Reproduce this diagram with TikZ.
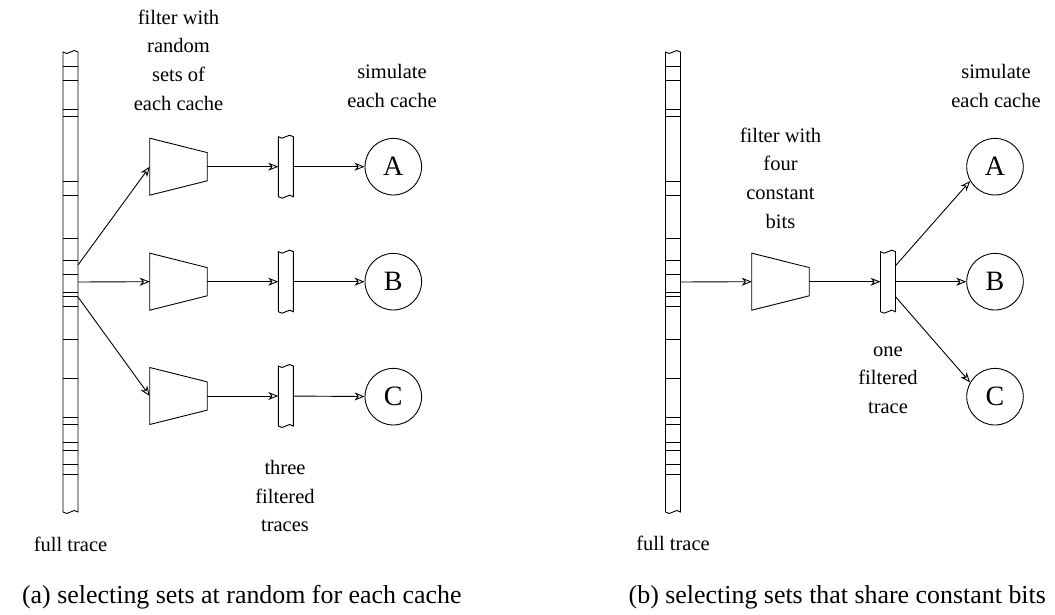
\documentclass[tikz,border=0pt]{standalone}
\usepackage{fontspec}
\setmainfont{Liberation Serif}
\usetikzlibrary{arrows.meta,positioning}

% outline of a trace strip: straight sides, wavy cut ends
\newcommand{\stripedge}[1]{%
  \draw (#1.north west) -- (#1.south west)
    sin ++(3.75,1.5) cos ++(3.75,-1.5) sin ++(3.75,-1.5) cos ++(3.75,1.5)
    -- (#1.north east)
    sin ++(-3.75,-1.5) cos ++(-3.75,1.5) sin ++(-3.75,1.5) cos ++(-3.75,-1.5)
    -- cycle;}
% filter drawn as a funnel inside its node box
\newcommand{\funnel}[1]{%
  \draw (#1.north west) -- ([yshift=-7.2pt]#1.north east)
    -- ([yshift=7.2pt]#1.south east) -- (#1.south west) -- cycle;}

\begin{document}
\begin{tikzpicture}[
    x=0.5pt, y=-0.5pt, line width=0.45pt,
    arr/.style={-{Stealth[open,length=5pt,width=4pt,inset=1.5pt]}},
    strip/.style={minimum width=7.5pt, inner sep=0pt, outer sep=0pt},
    filt/.style={minimum width=28.75pt, minimum height=28.5pt, inner sep=0pt, outer sep=0pt},
    cache/.style={circle, draw, minimum size=28.3pt, inner sep=0pt, font=\fontsize{14}{16}\selectfont},
    lbl/.style={align=center, font=\fontsize{10.25}{14.3}\selectfont},
    captext/.style={font=\fontsize{12.95}{15}\selectfont}
]
\useasboundingbox (0,0) rectangle (1055,615);

%% (a) one filter per cache
\node[strip, minimum height=230pt] (fullL) at (70.5,282) {};
\node[filt] (fA) at (178.5,166.7) {};
\node[filt] (fB) at (178.5,281.7) {};
\node[filt] (fC) at (178.5,396) {};
\node[strip, minimum height=30pt] (tA) at (285.8,166.7) {};
\node[strip, minimum height=30pt] (tB) at (285.8,281.7) {};
\node[strip, minimum height=30pt] (tC) at (285.8,396) {};
\node[cache] (cA) at (393.3,166.7) {A};
\node[cache] (cB) at (393.3,281.7) {B};
\node[cache] (cC) at (393.3,396.7) {C};

%% (b) one shared filter
\node[strip, minimum height=230pt] (fullR) at (673,282) {};
\node[filt] (fR) at (780.5,281.7) {};
\node[strip, minimum height=30pt] (tR) at (888,281.7) {};
\node[cache] (rA) at (995,166.7) {A};
\node[cache] (rB) at (995,281.7) {B};
\node[cache] (rC) at (995,396.7) {C};

% strips, ticks and funnels
\foreach \t in {fullL,fullR,tA,tB,tC,tR} {\stripedge{\t}}
\foreach \t in {fullL,fullR}
  \foreach \y in {66.7,80.7,109.3,116,181,195.7,238.3,260,274,292.7,296,306,339,378.3,417.3,424.7,442.7,450,464,474.7}
    \draw (\t.west |- 0,\y) -- (\t.east |- 0,\y);
\foreach \f in {fA,fB,fC,fR} {\funnel{\f}}

% connectors
\draw[arr] ([yshift=8.5pt]fullL.east) -- (fA.west);
\draw[arr] (fullL.east) -- (fB.west);
\draw[arr] ([yshift=-7.5pt]fullL.east) -- (fC.west);
\draw[arr] (fA) -- (tA);
\draw[arr] (fB) -- (tB);
\draw[arr] (fC) -- (tC);
\draw[arr] (tA) -- (cA);
\draw[arr] (tB) -- (cB);
\draw[arr] (tC) -- (cC);

\draw[arr] (fullR.east) -- (fR.west);
\draw[arr] (fR) -- (tR);
\draw[arr] ([yshift=8pt]tR.east) -- (rA.210);
\draw[arr] (tR) -- (rB);
\draw[arr] ([yshift=-7.5pt]tR.east) -- (rC.150);

% labels
\node[lbl] (lfilt) at (178.5,60) {filter with\\random\\sets of\\each cache};
\node[lbl] (lsim) at (392,86) {simulate\\each cache};
\node[lbl] (lthree) at (285,496) {three\\filtered\\traces};
\node[lbl] (lfullL) at (70.5,544) {full trace};
\node[lbl] (rfilt) at (780.5,178) {filter with\\four\\constant\\bits};
\node[lbl] (rsim) at (996,86) {simulate\\each cache};
\node[lbl] (rone) at (888,380) {one\\filtered\\trace};
\node[lbl] (lfullR) at (673,543) {full trace};

\node[captext, anchor=west] (capa) at (15,597) {(a) selecting sets at random for each cache};
\node[captext, anchor=east] (capb) at (1053,597) {(b) selecting sets that share constant bits};

\end{tikzpicture}
\end{document}
